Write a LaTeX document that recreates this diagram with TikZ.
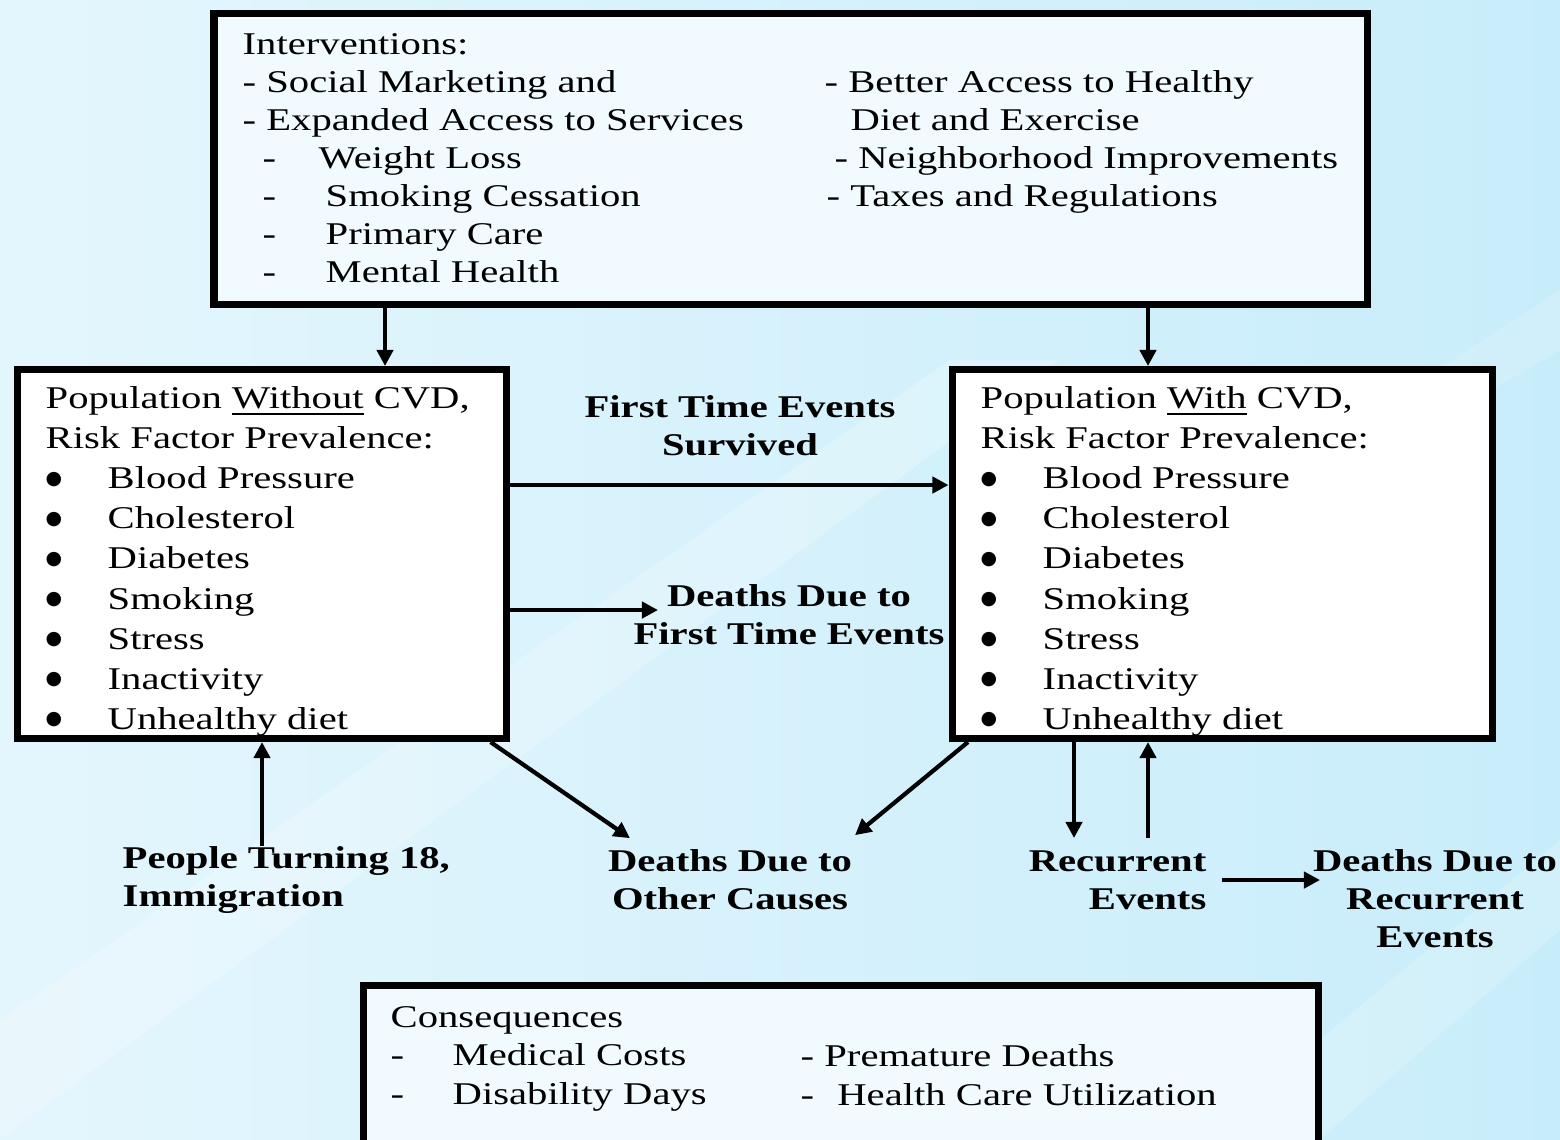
\documentclass[tikz,border=0pt]{standalone}
\usepackage{fontspec}
\setmainfont{Liberation Serif}[FakeStretch=1.285]
\newfontfamily\bulletfont{DejaVu Sans}
\usetikzlibrary{arrows.meta}

\definecolor{bgleft}{HTML}{E4F6FD}
\definecolor{bgright}{HTML}{C8EDFA}
\definecolor{boxtint}{HTML}{F1FAFE}
\newcommand{\bigbul}{\makebox[0.62cm][l]{\raisebox{1.3pt}{\bulletfont\fontsize{5.4}{6}\selectfont ●}}}

\begin{document}
\begin{tikzpicture}[x=1cm, y=-1cm,
    every node/.style={inner sep=0pt, font=\fontsize{9}{10.8}\selectfont},
    panel/.style={draw, line width=2pt, fill=white},
    tinted/.style={panel, fill=boxtint},
    block/.style={align=left, anchor=north west},
    flowlabel/.style={font=\fontsize{9}{10.8}\selectfont\bfseries},
    arr/.style={-{Triangle[length=4.6pt, width=4.6pt]}, line width=1.2pt}]
			% Background
			\useasboundingbox (0,0) rectangle (15.6,11.39);
			\shade[left color=bgleft, right color=bgright] (0,0) rectangle (15.6,11.39);
			\fill[white, opacity=0.22] (0,10.2) -- (9.5,3.6) -- (10.6,3.6) -- (0,11.39) -- cycle;
			\fill[white, opacity=0.18] (12.0,11.39) -- (15.6,8.4) -- (15.6,9.3) -- (13.2,11.39) -- cycle;
			\fill[white, opacity=0.15] (13.6,4.2) -- (15.6,2.9) -- (15.6,3.5) -- (14.4,4.2) -- cycle;
			% Boxes
			\node[tinted, minimum width=11.53cm, minimum height=2.91cm] (interv) at (7.905,1.585) {};
			\node[panel, minimum width=4.89cm, minimum height=3.69cm] (popwo) at (2.62,5.54) {};
			\node[panel, minimum width=5.40cm, minimum height=3.69cm] (popw) at (12.22,5.54) {};
			\node[tinted, minimum width=9.55cm, minimum height=1.8cm] (conseq) at (8.41,10.755) {};
			% Interventions text
			\node[block] (intleft) at (2.42,0.33) {Interventions:\\
				- Social Marketing and\\
				- Expanded Access to Services\\
				\hspace*{0.2cm}\makebox[0.56cm][l]{-}Weight Loss\\
				\hspace*{0.2cm}\makebox[0.63cm][l]{-}Smoking Cessation\\
				\hspace*{0.2cm}\makebox[0.63cm][l]{-}Primary Care\\
				\hspace*{0.2cm}\makebox[0.63cm][l]{-}Mental Health};
			\node[block] (intright) at (8.24,0.70) {- Better Access to Healthy\\
				\hspace*{0.26cm}Diet and Exercise\\
				\hspace*{0.10cm}- Neighborhood Improvements\\
				\hspace*{0.02cm}- Taxes and Regulations};
			% Population text
			\node[block, font=\fontsize{9}{11.4}\selectfont] (wotext) at (0.45,3.86) {Population \underline{Without} CVD,\\
				Risk Factor Prevalence:\\
				\bigbul Blood Pressure\\
				\bigbul Cholesterol\\
				\bigbul Diabetes\\
				\bigbul Smoking\\
				\bigbul Stress\\
				\bigbul Inactivity\\
				\bigbul Unhealthy diet};
			\node[block, font=\fontsize{9}{11.4}\selectfont] (wtext) at (9.80,3.86) {Population \underline{With} CVD,\\
				Risk Factor Prevalence:\\
				\bigbul Blood Pressure\\
				\bigbul Cholesterol\\
				\bigbul Diabetes\\
				\bigbul Smoking\\
				\bigbul Stress\\
				\bigbul Inactivity\\
				\bigbul Unhealthy diet};
			% Consequences text
			\node[block, font=\fontsize{9}{10.9}\selectfont] (conleft) at (3.90,10.06) {Consequences\\
				\makebox[0.62cm][l]{-}Medical Costs\\
				\makebox[0.62cm][l]{-}Disability Days};
			\node[block, font=\fontsize{9}{10.9}\selectfont] (conright) at (8.00,10.44) {- Premature Deaths\\
				- \hspace{0.13cm}Health Care Utilization};
			% Flow labels
			\node[flowlabel, align=center] (fts) at (7.40,4.26) {First Time Events\\Survived};
			\node[flowlabel, align=center] (dft) at (7.89,6.15) {Deaths Due to\\First Time Events};
			\node[flowlabel, align=left, anchor=west] (imm) at (1.22,8.80) {People Turning 18,\\Immigration};
			\node[flowlabel, align=center] (doc) at (7.30,8.80) {Deaths Due to\\Other Causes};
			\node[flowlabel, align=right, anchor=east] (rec) at (12.07,8.80) {Recurrent\\Events};
			\node[flowlabel, align=center] (drec) at (14.35,8.99) {Deaths Due to\\Recurrent\\Events};
			% Arrows interventions
			\draw[arr] (3.85,0 |- interv.south) -- (3.85,0 |- popwo.north);
			\draw[arr] (11.48,0 |- interv.south) -- (11.48,0 |- popw.north);
			% Arrows first time events
			\draw[arr] (popwo.east |- 0,4.85) -- (popw.west |- 0,4.85);
			\draw[arr] (popwo.east |- 0,6.10) -- ++(1.48,0);
			% Arrows other causes
			\draw[arr] ([xshift=-0.195cm]popwo.south east) -- ([xshift=-1.0cm, yshift=0.11cm]doc.north);
			\draw[arr] ([xshift=0.195cm]popw.south west) -- ([xshift=1.25cm, yshift=0.14cm]doc.north);
			% Arrow inflow
			\draw[arr] (popwo.south |- imm.north) -- (popwo.south);
			% Arrows recurrent
			\draw[arr] (10.74,0 |- popw.south) -- (10.74,8.38);
			\draw[arr] (11.48,8.38) -- (11.48,0 |- popw.south);
			\draw[arr] ([xshift=0.15cm]rec.east) -- (13.20,0 |- rec.east);
		\end{tikzpicture}
\end{document}
